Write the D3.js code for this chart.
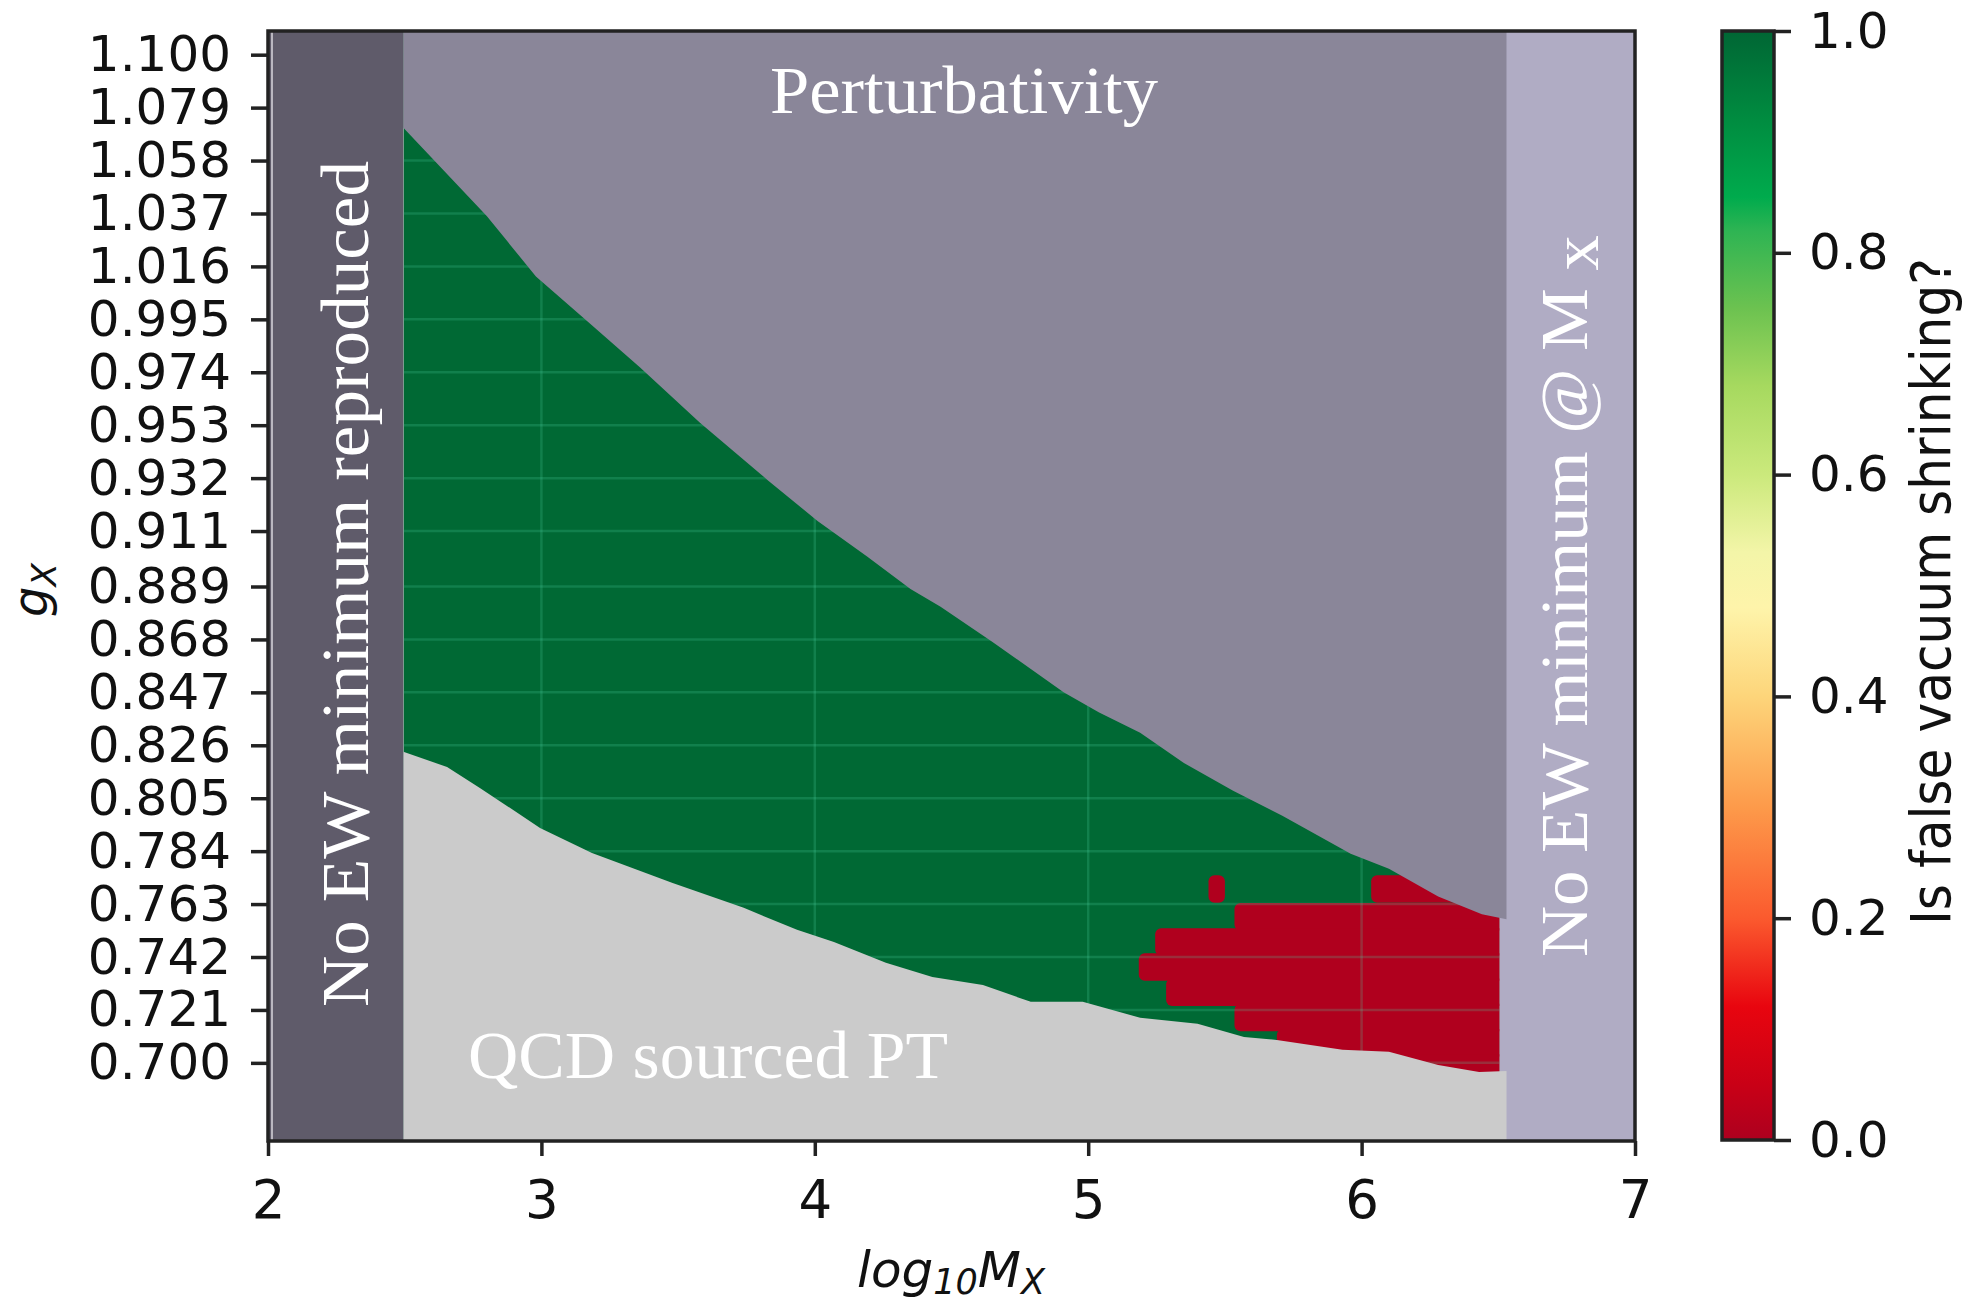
<!DOCTYPE html>
<html>
<head>
<meta charset="utf-8">
<script src="https://cdn.jsdelivr.net/npm/d3@7"></script>
<style>
  body { margin: 0; background: #fff; }
  svg text { font-family: "DejaVu Sans", sans-serif; fill: #111; }
  .tick text { font-size: 50px; }
  .tick line { stroke: #222; stroke-width: 3.5; }
  .region-label { font-family: "Liberation Serif", serif; fill: #fff; font-size: 68px; }
</style>
</head>
<body>
<svg id="chart"></svg>
<script>
(function() {
  'use strict';

  // axis ticks
  const xTicks = [2, 3, 4, 5, 6, 7];
  const yTicks = [0.700, 0.721, 0.742, 0.763, 0.784, 0.805, 0.826, 0.847, 0.868, 0.889,
                  0.911, 0.932, 0.953, 0.974, 0.995, 1.016, 1.037, 1.058, 1.079, 1.100];
  const cbarTicks = [0, 0.2, 0.4, 0.6, 0.8, 1.0];

  // colour bar stops (value -> colour)
  const cbarValues = [0, 0.05, 0.12, 0.2, 0.3, 0.4, 0.48, 0.53, 0.6, 0.68, 0.75, 0.82, 0.85, 0.92, 1.0];
  const cbarColors = ['#ad001f', '#c90016', '#e8050f', '#fb5a2e', '#fd9a4a', '#fdd57a', '#fef4aa',
                      '#f3f5a8', '#cbe97c', '#a6d95f', '#6cc250', '#2eb453', '#00ab4d', '#008c40', '#006634'];

  // extent of the scanned grid (log10 M_X, g_X)
  const mapX = [2.495, 6.505];
  const mapG = [0.669, 1.1094];

  // edge of the perturbativity region
  const pertX = [2.495, 2.80, 2.98, 3.17, 3.36, 3.58, 3.83, 4.01, 4.19, 4.35, 4.46, 4.65,
                 4.91, 5.04, 5.19, 5.35, 5.53, 5.71, 5.96, 6.10, 6.28, 6.44, 6.53];
  const pertG = [1.071, 1.036, 1.012, 0.994, 0.976, 0.954, 0.931, 0.915, 0.901, 0.888, 0.881, 0.867,
                 0.847, 0.839, 0.831, 0.819, 0.808, 0.798, 0.783, 0.777, 0.766, 0.759, 0.757];

  // edge of the QCD sourced PT region
  const qcdX = [2.495, 2.655, 2.775, 2.995, 3.185, 3.48, 3.74, 3.935, 4.07, 4.26, 4.43, 4.615,
                4.79, 4.98, 5.19, 5.40, 5.57, 5.69, 5.93, 6.10, 6.28, 6.43, 6.53];
  const qcdG = [0.8234, 0.8174, 0.8091, 0.7932, 0.7833, 0.7714, 0.7615, 0.7528, 0.7480, 0.7397, 0.7341, 0.7309,
                0.7242, 0.7242, 0.7179, 0.7155, 0.7103, 0.7091, 0.7052, 0.7044, 0.6992, 0.6964, 0.6968];

  // rows of grid cells where the false vacuum is not shrinking (value 0)
  const gStep = 0.0101;
  const redG    = [0.769, 0.769, 0.758, 0.748, 0.738, 0.728, 0.718, 0.708, 0.698];
  const redFrom = [6.035, 5.44,  5.535, 5.245, 5.185, 5.285, 5.535, 5.69,  5.90];
  const redTo   = [6.60,  5.50,  6.60,  6.60,  6.60,  6.60,  6.60,  6.60,  6.60];

  const frame = {left: 268, right: 1635, top: 31, bottom: 1141};

  const svg = d3.select('#chart')
    .attr('width', 1970)
    .attr('height', 1306);

  const x = d3.scaleLinear().domain([2, 7]).range([frame.left, frame.right]);
  const y = d3.scaleLinear().domain(mapG).range([frame.bottom, frame.top]);

  const colour = d3.scaleLinear().domain(cbarValues).range(cbarColors);
  const defs = svg.append('defs');

  defs.append('clipPath')
    .attr('id', 'map-clip')
    .append('rect')
      .attr('x', x(mapX[0]))
      .attr('y', y(mapG[1]))
      .attr('width', x(mapX[1]) - x(mapX[0]))
      .attr('height', y(mapG[0]) - y(mapG[1]));

  // heat map: background value 1, then rows of value 0
  const map = svg.append('g').attr('clip-path', 'url(#map-clip)');

  map.append('rect')
    .attr('x', x(mapX[0]))
    .attr('y', y(mapG[1]))
    .attr('width', x(mapX[1]) - x(mapX[0]))
    .attr('height', y(mapG[0]) - y(mapG[1]))
    .attr('fill', '#006934');

  map.selectAll('.cell')
    .data(redG)
    .enter()
    .append('rect')
      .attr('class', 'cell')
      .attr('x', (d, i) => x(redFrom[i]))
      .attr('y', d => y(d + gStep / 2) - 1)
      .attr('width', (d, i) => x(redTo[i]) - x(redFrom[i]))
      .attr('height', d => y(d - gStep / 2) - y(d + gStep / 2) + 2)
      .attr('rx', 6)
      .attr('fill', '#b0001e');

  // faint grid over the heat map
  const grid = map.append('g')
    .attr('stroke', '#4fd1a5')
    .attr('stroke-opacity', 0.22)
    .attr('stroke-width', 2.5);

  grid.selectAll('.v-line')
    .data(xTicks.filter(d => d > mapX[0] && d < mapX[1]))
    .enter()
    .append('line')
      .attr('x1', d => x(d)).attr('x2', d => x(d))
      .attr('y1', y(mapG[1])).attr('y2', y(mapG[0]));

  grid.selectAll('.h-line')
    .data(yTicks)
    .enter()
    .append('line')
      .attr('x1', x(mapX[0])).attr('x2', x(mapX[1]))
      .attr('y1', d => y(d)).attr('y2', d => y(d));

  // excluded regions
  svg.append('rect')
    .attr('x', x(mapX[1]))
    .attr('y', frame.top)
    .attr('width', x(7) - x(mapX[1]))
    .attr('height', frame.bottom - frame.top)
    .attr('fill', '#b0acc4');

  const pertArea = d3.area()
    .x(d => x(d[0]))
    .y0(y(mapG[1]))
    .y1(d => y(d[1]));

  svg.append('path')
    .datum(pertX.map((v, i) => [v, pertG[i]]))
    .attr('d', pertArea)
    .attr('fill', '#8a8699');

  const qcdArea = d3.area()
    .x(d => x(d[0]))
    .y0(y(mapG[0]))
    .y1(d => y(d[1]));

  svg.append('path')
    .datum(qcdX.map((v, i) => [v, qcdG[i]]))
    .attr('d', qcdArea)
    .attr('fill', '#cbcbcb');

  svg.append('rect')
    .attr('x', x(2))
    .attr('y', frame.top)
    .attr('width', x(mapX[0]) - x(2))
    .attr('height', frame.bottom - frame.top)
    .attr('fill', '#5f5b6a');

  svg.append('line')
    .attr('x1', x(2) + 4).attr('x2', x(2) + 4)
    .attr('y1', frame.top).attr('y2', frame.bottom)
    .attr('stroke', '#d8d6de')
    .attr('stroke-width', 1.5);

  // region labels
  svg.append('text')
    .attr('class', 'region-label')
    .attr('x', 964)
    .attr('y', 113)
    .attr('text-anchor', 'middle')
    .attr('textLength', 388)
    .attr('lengthAdjust', 'spacingAndGlyphs')
    .text('Perturbativity');

  svg.append('text')
    .attr('class', 'region-label')
    .attr('x', 468)
    .attr('y', 1078)
    .attr('textLength', 480)
    .attr('lengthAdjust', 'spacingAndGlyphs')
    .text('QCD sourced PT');

  svg.append('text')
    .attr('class', 'region-label')
    .attr('transform', 'translate(368,584) rotate(-90)')
    .attr('text-anchor', 'middle')
    .attr('textLength', 846)
    .attr('lengthAdjust', 'spacingAndGlyphs')
    .text('No EW minimum reproduced');

  const right = svg.append('text')
    .attr('class', 'region-label')
    .attr('transform', 'translate(1587,957) rotate(-90)')
    .attr('textLength', 722)
    .attr('lengthAdjust', 'spacingAndGlyphs');
  right.append('tspan').text('No EW minimum @ M ');
  right.append('tspan').attr('dy', 11).text('x');

  // axes
  svg.append('g')
    .attr('transform', `translate(${frame.left},0)`)
    .call(d3.axisLeft(y).tickValues(yTicks).tickFormat(d3.format('.3f')).tickSize(17).tickPadding(20))
    .call(g => g.select('.domain').remove());

  svg.append('g')
    .attr('transform', `translate(0,${frame.bottom})`)
    .call(d3.axisBottom(x).tickValues(xTicks).tickFormat(d3.format('d')).tickSize(15).tickPadding(24))
    .call(g => g.select('.domain').remove())
    .call(g => g.selectAll('text').style('font-size', '53px'));

  svg.append('rect')
    .attr('x', frame.left)
    .attr('y', frame.top)
    .attr('width', frame.right - frame.left)
    .attr('height', frame.bottom - frame.top)
    .attr('fill', 'none')
    .attr('stroke', '#222')
    .attr('stroke-width', 3.5);

  // axis titles
  const xTitle = svg.append('text')
    .attr('x', 951)
    .attr('y', 1287)
    .attr('text-anchor', 'middle')
    .style('font-style', 'italic')
    .style('font-size', '50px');
  xTitle.append('tspan').text('log');
  xTitle.append('tspan').attr('dy', 7).style('font-size', '35px').text('10');
  xTitle.append('tspan').attr('dy', -7).text('M');
  xTitle.append('tspan').attr('dy', 7).style('font-size', '35px').text('X');

  const yTitle = svg.append('text')
    .attr('transform', 'translate(47,590) rotate(-90)')
    .attr('text-anchor', 'middle')
    .style('font-style', 'italic')
    .style('font-size', '48px');
  yTitle.append('tspan').text('g');
  yTitle.append('tspan').attr('dy', 9).style('font-size', '34px').text('X');

  // colour bar
  const cb = d3.scaleLinear().domain([0, 1]).range([1140, 31]);
  const cbLeft = 1722;
  const cbWidth = 52;

  const grad = defs.append('linearGradient')
    .attr('id', 'cbar-grad')
    .attr('x1', 0).attr('y1', 1)
    .attr('x2', 0).attr('y2', 0);

  grad.selectAll('stop')
    .data(cbarValues)
    .enter()
    .append('stop')
      .attr('offset', d => d)
      .attr('stop-color', d => colour(d));

  svg.append('rect')
    .attr('x', cbLeft)
    .attr('y', cb(1))
    .attr('width', cbWidth)
    .attr('height', cb(0) - cb(1))
    .attr('fill', 'url(#cbar-grad)')
    .attr('stroke', '#222')
    .attr('stroke-width', 3.5);

  svg.append('g')
    .attr('transform', `translate(${cbLeft + cbWidth},0)`)
    .call(d3.axisRight(cb).tickValues(cbarTicks).tickFormat(d3.format('.1f')).tickSize(17).tickPadding(18))
    .call(g => g.select('.domain').remove());

  svg.append('text')
    .attr('transform', `translate(1950,${(cb(0) + cb(1)) / 2 + 6}) rotate(-90)`)
    .attr('text-anchor', 'middle')
    .attr('textLength', 667)
    .attr('lengthAdjust', 'spacingAndGlyphs')
    .style('font-size', '55px')
    .text('Is false vacuum shrinking?');
})();
</script>
</body>
</html>
